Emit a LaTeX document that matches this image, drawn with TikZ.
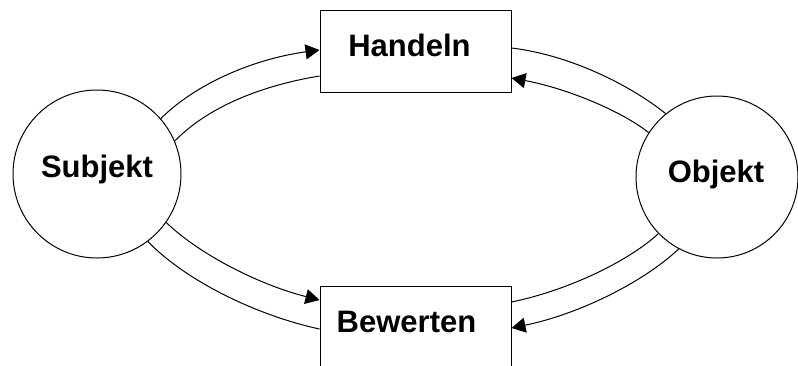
\documentclass[tikz,border=0pt]{standalone}
\usepackage{fontspec}
\setmainfont{Liberation Sans}
\usetikzlibrary{arrows.meta}
\begin{document}
\begin{tikzpicture}[x=1pt,y=-1pt,
  ent/.style={circle,draw,line width=1pt,minimum size=166pt,inner sep=0pt},
  act/.style={rectangle,draw,line width=1pt,minimum width=191pt,minimum height=82pt,inner sep=0pt},
  lbl/.style={font=\fontsize{31}{36}\selectfont\bfseries,inner sep=0pt},
  conn/.style={line width=1pt},
  arr/.style={conn,-{Triangle[length=14pt,width=15pt]}}]
\useasboundingbox (0,0) rectangle (798,365);
\node[ent,minimum size=168pt] (S) at (97,174) {};
\node[ent,minimum size=162pt] (O) at (717,177) {};
\node[act] (H) at (415.5,51) {};
\node[act] (B) at (415.5,327) {};
\node[lbl] (St) at (97,169) {Subjekt};
\node[lbl] (Ot) at (716,174) {Objekt};
\node[lbl] (Ht) at (409.5,45) {Handeln};
\node[lbl] (Bt) at (406.5,322) {Bewerten};
% Subjekt -> Handeln
\draw[arr] (S.41.6) .. controls (200,80) and (260,58) .. ([yshift=1pt]H.west);
\draw[conn] (S.23.5) .. controls (210,105) and (265,85) .. ([yshift=-25pt]H.west);
% Objekt -> Handeln
\draw[conn] ([yshift=3pt]H.east) .. controls (570,55) and (630,85) .. (O.129.5);
\draw[arr] (O.147) .. controls (620,110) and (565,88) .. ([yshift=-27pt]H.east);
% Subjekt -> Bewerten
\draw[arr] (S.-35.5) .. controls (200,255) and (260,285) .. ([yshift=27pt]B.west);
\draw[conn] (S.-53) .. controls (185,280) and (255,315) .. ([yshift=-2pt]B.west);
% Objekt -> Bewerten
\draw[conn] (O.224.5) .. controls (630,260) and (570,290) .. ([yshift=25pt]B.east);
\draw[arr] (O.242.5) .. controls (640,285) and (575,315) .. ([yshift=-1pt]B.east);
\end{tikzpicture}
\end{document}
